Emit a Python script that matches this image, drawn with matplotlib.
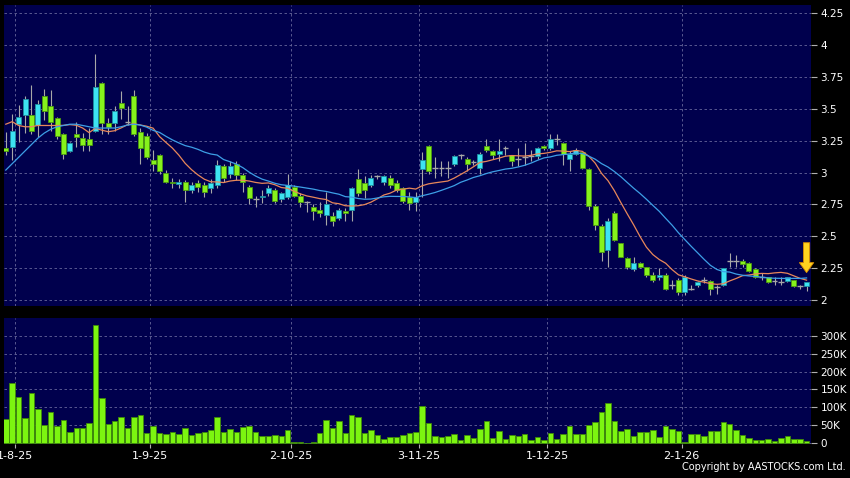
import matplotlib
matplotlib.use("Agg")
import matplotlib.pyplot as plt
import numpy as np

# daily OHLC (30-7-25 .. 29-1-26), volume in thousands
opens = [3.19, 3.20, 3.38, 3.45, 3.45, 3.37, 3.60, 3.52, 3.43, 3.30,
         3.17, 3.30, 3.27, 3.26, 3.33, 3.70, 3.39, 3.39, 3.55, 3.40,
         3.60, 3.32, 3.29, 3.10, 3.14, 3.00, 2.93, 2.91, 2.93, 2.86,
         2.92, 2.90, 2.88, 2.90, 3.05, 2.99, 3.07, 2.98, 2.89, 2.79,
         2.81, 2.84, 2.86, 2.79, 2.81, 2.89, 2.82, 2.77, 2.73, 2.71,
         2.67, 2.66, 2.64, 2.70, 2.71, 2.95, 2.92, 2.90, 2.97, 2.93,
         2.96, 2.92, 2.88, 2.81, 2.77, 3.03, 3.21, 3.04, 3.04, 3.04,
         3.07, 3.14, 3.11, 3.08, 3.04, 3.21, 3.17, 3.15, 3.19, 3.14,
         3.11, 3.12, 3.13, 3.13, 3.21, 3.19, 3.26, 3.23, 3.11, 3.15,
         3.16, 3.03, 2.74, 2.58, 2.39, 2.68, 2.45, 2.33, 2.24, 2.29,
         2.26, 2.20, 2.18, 2.20, 2.12, 2.16, 2.06, 2.09, 2.12, 2.16,
         2.15, 2.10, 2.12, 2.31, 2.31, 2.31, 2.29, 2.24, 2.18, 2.18,
         2.15, 2.14, 2.15, 2.16, 2.11, 2.11]
highs = [3.32, 3.46, 3.53, 3.60, 3.69, 3.57, 3.66, 3.65, 3.44, 3.31,
         3.24, 3.40, 3.31, 3.35, 3.93, 3.71, 3.43, 3.52, 3.64, 3.52,
         3.65, 3.35, 3.31, 3.18, 3.15, 3.02, 2.96, 2.95, 2.94, 2.93,
         2.94, 2.93, 2.95, 3.10, 3.07, 3.09, 3.09, 3.00, 2.90, 2.82,
         2.86, 2.90, 2.88, 2.85, 2.99, 2.90, 2.84, 2.78, 2.75, 2.77,
         2.85, 2.69, 2.72, 2.72, 2.89, 3.03, 2.97, 2.98, 2.98, 2.98,
         2.98, 2.94, 2.89, 2.85, 2.85, 3.16, 3.22, 3.12, 3.09, 3.09,
         3.14, 3.15, 3.12, 3.10, 3.16, 3.26, 3.18, 3.26, 3.21, 3.14,
         3.19, 3.23, 3.18, 3.20, 3.22, 3.30, 3.30, 3.24, 3.17, 3.19,
         3.17, 3.04, 2.75, 2.60, 2.64, 2.70, 2.45, 2.34, 2.34, 2.30,
         2.26, 2.22, 2.25, 2.21, 2.16, 2.17, 2.20, 2.12, 2.15, 2.18,
         2.16, 2.12, 2.25, 2.37, 2.35, 2.32, 2.30, 2.25, 2.21, 2.18,
         2.18, 2.18, 2.18, 2.16, 2.12, 2.14]
lows = [3.14, 3.10, 3.24, 3.31, 3.30, 3.28, 3.41, 3.33, 3.26, 3.11,
        3.16, 3.20, 3.17, 3.17, 3.32, 3.30, 3.30, 3.33, 3.42, 3.37,
        3.29, 3.07, 3.11, 3.01, 2.99, 2.92, 2.88, 2.88, 2.77, 2.84,
        2.85, 2.81, 2.84, 2.88, 2.93, 2.96, 2.94, 2.85, 2.75, 2.73,
        2.76, 2.82, 2.76, 2.77, 2.79, 2.81, 2.73, 2.69, 2.63, 2.65,
        2.59, 2.58, 2.63, 2.62, 2.62, 2.82, 2.80, 2.89, 2.95, 2.90,
        2.88, 2.85, 2.76, 2.71, 2.70, 2.81, 2.99, 2.96, 2.97, 2.96,
        3.05, 3.11, 3.01, 3.06, 2.99, 3.16, 3.11, 3.09, 3.14, 3.05,
        3.05, 3.06, 3.09, 3.11, 3.18, 3.18, 3.22, 3.06, 3.01, 3.14,
        3.03, 2.71, 2.55, 2.31, 2.26, 2.46, 2.34, 2.24, 2.23, 2.25,
        2.18, 2.14, 2.16, 2.08, 2.09, 2.04, 2.04, 2.08, 2.10, 2.13,
        2.04, 2.05, 2.11, 2.26, 2.26, 2.26, 2.22, 2.17, 2.16, 2.13,
        2.12, 2.12, 2.14, 2.10, 2.09, 2.07]
closes = [3.17, 3.33, 3.44, 3.58, 3.33, 3.54, 3.48, 3.40, 3.29, 3.15,
          3.23, 3.28, 3.22, 3.22, 3.67, 3.39, 3.36, 3.48, 3.51, 3.40,
          3.30, 3.19, 3.12, 3.07, 3.01, 2.93, 2.92, 2.93, 2.86, 2.90,
          2.89, 2.85, 2.92, 3.06, 2.96, 3.05, 2.98, 2.93, 2.80, 2.79,
          2.82, 2.88, 2.78, 2.84, 2.90, 2.82, 2.77, 2.77, 2.70, 2.68,
          2.75, 2.62, 2.71, 2.68, 2.88, 2.84, 2.86, 2.96, 2.97, 2.97,
          2.90, 2.86, 2.78, 2.76, 2.81, 3.10, 3.01, 3.04, 3.04, 3.04,
          3.13, 3.14, 3.07, 3.08, 3.15, 3.18, 3.14, 3.17, 3.19, 3.09,
          3.11, 3.12, 3.13, 3.19, 3.19, 3.26, 3.26, 3.15, 3.15, 3.18,
          3.04, 2.74, 2.59, 2.38, 2.62, 2.47, 2.34, 2.26, 2.29, 2.26,
          2.20, 2.16, 2.20, 2.09, 2.12, 2.06, 2.18, 2.09, 2.14, 2.16,
          2.09, 2.10, 2.25, 2.31, 2.31, 2.28, 2.23, 2.18, 2.18, 2.14,
          2.15, 2.14, 2.18, 2.11, 2.11, 2.14]
volumes = [69, 168, 130, 70, 139, 97, 50, 88, 49, 65,
           31, 43, 43, 57, 330, 125, 55, 63, 73, 44,
           74, 80, 28, 49, 29, 27, 31, 25, 43, 23,
           30, 32, 36, 74, 32, 39, 32, 45, 47, 32,
           20, 20, 22, 21, 37, 3, 4, 2, 3, 30,
           64, 43, 61, 30, 80, 72, 30, 36, 22, 12,
           18, 18, 23, 28, 31, 104, 57, 21, 18, 20,
           26, 8, 23, 15, 41, 62, 14, 34, 12, 22,
           20, 27, 10, 18, 9, 30, 13, 26, 47, 25,
           25, 52, 59, 87, 112, 62, 33, 40, 20, 31,
           31, 36, 18, 47, 39, 34, 5, 26, 25, 21,
           33, 34, 59, 53, 37, 24, 15, 10, 10, 13,
           7, 15, 20, 13, 13, 6]

ma10_head = [3.38, 3.40, 3.37, 3.36, 3.36, 3.37, 3.37, 3.37, 3.37]
ma20_head = [3.02, 3.07, 3.12, 3.17, 3.22, 3.27, 3.31, 3.34, 3.36, 3.37,
             3.38, 3.38, 3.37, 3.36, 3.35, 3.35, 3.35, 3.35, 3.36]

tick_labels = ['1-8-25', '1-9-25', '2-10-25', '3-11-25', '1-12-25', '2-1-26']
tick_days = [2, 23, 45, 65, 85, 106]
price_ticks = [2, 2.25, 2.5, 2.75, 3, 3.25, 3.5, 3.75, 4, 4.25]
vol_ticks = [0, 50, 100, 150, 200, 250, 300]

o = np.array(opens)
h = np.array(highs)
l = np.array(lows)
c = np.array(closes)
v = np.array(volumes)
x = np.arange(len(c))


def sma(vals, n, head):
    out = list(head)
    for i in range(n - 1, len(vals)):
        out.append(vals[i - n + 1:i + 1].mean())
    return np.array(out)


ma10 = sma(c, 10, ma10_head)
ma20 = sma(c, 20, ma20_head)

BG = '#00004d'
GRID = '#66669a'
UP = '#3de3f2'
UP_EDGE = '#1f8fa0'
DOWN = '#86f21c'
DOWN_EDGE = '#4c9a10'
WICK = '#a8a8a8'

fig = plt.figure(figsize=(8.5, 4.78), dpi=100, facecolor='black')
ax = fig.add_axes([0.0047, 0.3598, 0.9491, 0.6297], facecolor=BG)
axv = fig.add_axes([0.0047, 0.0711, 0.9491, 0.263], facecolor=BG, sharex=ax)

grid_x = [d - 0.5 for d in tick_days]
for a in (ax, axv):
    for s in a.spines.values():
        s.set_visible(False)
    a.set_axisbelow(True)
    a.grid(True, color=GRID, linestyle=(0, (3, 3)), linewidth=0.6)
    a.yaxis.tick_right()
    a.tick_params(axis='y', colors='#b0b0b0', labelcolor='white',
                  length=4, width=0.8, pad=3, labelsize=7.5)

# candles
ax.vlines(x, l, h, color=WICK, linewidth=0.8, zorder=2)
up = c > o
down = c < o
flat = c == o
ax.bar(x[up], (c - o)[up], bottom=o[up], width=0.78, color=UP,
       edgecolor=UP_EDGE, linewidth=0.6, zorder=3)
ax.bar(x[down], (o - c)[down], bottom=c[down], width=0.78, color=DOWN,
       edgecolor=DOWN_EDGE, linewidth=0.6, zorder=3)
ax.hlines(c[flat], x[flat] - 0.45, x[flat] + 0.45, color=WICK,
          linewidth=1.0, zorder=3)

ax.plot(x, ma10, color='#e8875a', linewidth=0.9, zorder=4)
ax.plot(x, ma20, color='#3d9fe6', linewidth=0.9, zorder=4)

# arrow marking the latest session
ax.annotate('', xy=(x[-1], h[-1] + 0.075), xytext=(x[-1], h[-1] + 0.31),
            arrowprops=dict(arrowstyle='simple,head_length=0.8,head_width=1.15,tail_width=0.5',
                            fc='#ffd21f', ec='#d88a00', lw=0.6,
                            mutation_scale=9, shrinkA=0, shrinkB=0),
            zorder=6)

ax.set_ylim(1.953, 4.3155)
ax.set_yticks(price_ticks)
ax.set_yticklabels(['%g' % t for t in price_ticks])
ax.set_xticks(grid_x)
ax.tick_params(axis='x', bottom=False, labelbottom=False)

# volume
axv.bar(x, v, width=0.86, color='#7cf510', edgecolor='#3f8a08',
        linewidth=0.6, zorder=3)
axv.set_ylim(-2, 348.5)
axv.set_yticks(vol_ticks)
axv.set_yticklabels(['0' if t == 0 else '%dK' % t for t in vol_ticks])
axv.set_xlim(-0.28, len(c) - 0.35)
axv.set_xticks(grid_x)
axv.set_xticklabels(tick_labels)
axv.tick_params(axis='x', colors='#b0b0b0', labelcolor='white',
                length=3, width=0.8, pad=2, labelsize=8)

fig.text(0.995, 0.012, 'Copyright by AASTOCKS.com Ltd.', color='white',
         fontsize=7.0, ha='right', va='bottom')

fig.savefig('out.png', dpi=100, facecolor='black')
